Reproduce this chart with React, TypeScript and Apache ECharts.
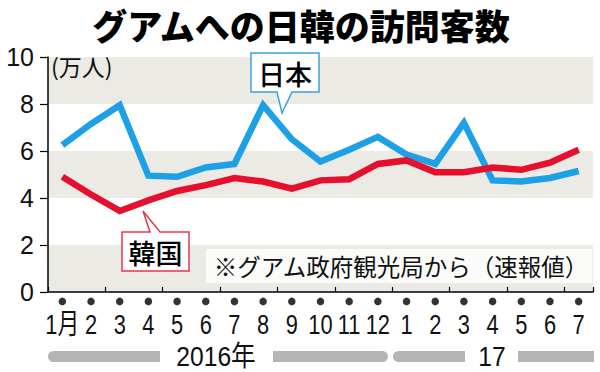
import React, { useEffect, useRef } from "react";
import * as echarts from "echarts";

const categories = [
  "2016-01", "2016-02", "2016-03", "2016-04", "2016-05", "2016-06", "2016-07",
  "2016-08", "2016-09", "2016-10", "2016-11", "2016-12",
  "2017-01", "2017-02", "2017-03", "2017-04", "2017-05", "2017-06", "2017-07",
];
const tickLabels = [
  "1月", "2", "3", "4", "5", "6", "7", "8", "9", "10", "11", "12",
  "1", "2", "3", "4", "5", "6", "7",
];
const japan = [6.25, 7.15, 7.95, 4.95, 4.9, 5.3, 5.45, 7.95, 6.5, 5.55, 6.05, 6.6, 5.85, 5.45, 7.2, 4.75, 4.7, 4.85, 5.15];
const korea = [4.9, 4.15, 3.45, 3.9, 4.3, 4.55, 4.85, 4.7, 4.4, 4.75, 4.8, 5.45, 5.6, 5.1, 5.1, 5.3, 5.2, 5.5, 6.05];
const yTicks = [0, 2, 4, 6, 8, 10];

const TITLE = "グアムへの日韓の訪問客数";
const UNIT = "(万人)";
const JAPAN_LABEL = "日本";
const KOREA_LABEL = "韓国";
const NOTE = "※グアム政府観光局から（速報値）";
const YEAR1 = "2016年";
const YEAR2 = "17";

const CJK = "'Noto Sans CJK JP', 'Noto Sans', sans-serif";
const SANS = "'Liberation Sans', Arial, 'Noto Sans CJK JP', sans-serif";

export default function App() {
  const ref = useRef<HTMLDivElement>(null);
  useEffect(() => {
    document.body.style.margin = "0";
    if (!ref.current) return;
    const chart = echarts.init(ref.current, null, { renderer: "svg" });
    const bar = "#b5b5b5";
    chart.setOption({
      animation: false,
      grid: { left: 48, right: 7, top: 57, bottom: 80, containLabel: false },
      xAxis: {
        type: "category",
        data: categories,
        boundaryGap: true,
        axisLine: { show: true, lineStyle: { color: "#000", width: 1.5 } },
        axisTick: { show: true, inside: true, length: 5, lineStyle: { color: "#000", width: 1.2 } },
        axisLabel: { show: false },
        splitLine: { show: false },
      },
      yAxis: {
        type: "value",
        min: 0,
        max: 10,
        interval: 2,
        axisLine: { show: true, lineStyle: { color: "#000", width: 1.5 } },
        axisTick: { show: true, length: 8, lineStyle: { color: "#000", width: 1.2 } },
        axisLabel: {
          margin: 14,
          fontFamily: SANS,
          fontSize: 25,
          color: "#111",
          formatter: (v: number) => (yTicks.includes(v) ? String(v) : ""),
        },
        splitLine: { show: false },
        splitArea: { show: true, areaStyle: { color: ["#ebeae5", "#ffffff"] } },
      },
      series: [
        {
          type: "line",
          data: japan,
          symbol: "none",
          lineStyle: { color: "#1ea0e6", width: 6.5, join: "miter" },
          z: 3,
        },
        {
          type: "line",
          data: korea,
          symbol: "none",
          lineStyle: { color: "#e5102d", width: 6.5, join: "miter" },
          z: 4,
        },
        {
          type: "scatter",
          data: categories.map((_c, i) => [i, -0.4]),
          symbol: "circle",
          symbolSize: 7.5,
          itemStyle: { color: "#000" },
          clip: false,
          silent: true,
          z: 5,
        },
      ],
    });

    // x-axis labels placed through the axis scale, drawn condensed
    const labelY = chart.convertToPixel({ yAxisIndex: 0 }, 0) as number;
    const xLabels = tickLabels.map((t, i) => {
      const px = chart.convertToPixel({ xAxisIndex: 0 }, i) as number;
      return {
        type: "text",
        x: px,
        y: labelY + 32,
        scaleX: 0.78,
        style: {
          text: t,
          fontFamily: SANS,
          fontSize: 28,
          fill: "#111",
          align: "center",
          verticalAlign: "middle",
        },
      };
    });

    chart.setOption({
      graphic: [
        {
          type: "text",
          x: 301,
          y: 24,
          style: {
            text: TITLE,
            fontFamily: CJK,
            fontWeight: 900,
            fontSize: 35,
            fill: "#000",
            align: "center",
            verticalAlign: "middle",
          },
        },
        {
          type: "text",
          x: 51,
          y: 66,
          style: {
            text: UNIT,
            fontFamily: CJK,
            fontSize: 23,
            fill: "#111",
            align: "left",
            verticalAlign: "middle",
          },
        },
        {
          type: "polygon",
          z: 10,
          shape: {
            points: [[251, 53], [319, 53], [319, 92], [292, 92], [282, 113], [277, 92], [251, 92]],
          },
          style: { fill: "#fff", stroke: "#3aa3dd", lineWidth: 1.5 },
        },
        {
          type: "text",
          z: 11,
          x: 285,
          y: 73,
          style: {
            text: JAPAN_LABEL,
            fontFamily: CJK,
            fontWeight: 500,
            fontSize: 27,
            fill: "#000",
            align: "center",
            verticalAlign: "middle",
          },
        },
        {
          type: "polygon",
          z: 10,
          shape: {
            points: [[122, 232], [150, 232], [143, 211], [160, 232], [189, 232], [189, 271], [122, 271]],
          },
          style: { fill: "#fff", stroke: "#e5384c", lineWidth: 1.5 },
        },
        {
          type: "text",
          z: 11,
          x: 155.5,
          y: 252,
          style: {
            text: KOREA_LABEL,
            fontFamily: CJK,
            fontWeight: 500,
            fontSize: 27,
            fill: "#000",
            align: "center",
            verticalAlign: "middle",
          },
        },
        {
          type: "rect",
          z: 8,
          shape: { x: 206, y: 249, width: 386, height: 34 },
          style: { fill: "#fbfbf9" },
        },
        {
          type: "text",
          z: 9,
          x: 401,
          y: 266,
          style: {
            text: NOTE,
            fontFamily: CJK,
            fontSize: 23.5,
            fill: "#111",
            align: "center",
            verticalAlign: "middle",
          },
        },
        {
          type: "rect",
          shape: { x: 48, y: 351, width: 112, height: 11, r: [5.5, 0, 0, 5.5] },
          style: { fill: bar },
        },
        {
          type: "rect",
          shape: { x: 273, y: 351, width: 115, height: 11, r: [0, 5.5, 5.5, 0] },
          style: { fill: bar },
        },
        {
          type: "rect",
          shape: { x: 393, y: 351, width: 72, height: 11, r: [5.5, 0, 0, 5.5] },
          style: { fill: bar },
        },
        {
          type: "rect",
          shape: { x: 518, y: 351, width: 76, height: 11, r: 0 },
          style: { fill: bar },
        },
        {
          type: "text",
          x: 216,
          y: 356,
          scaleX: 0.88,
          style: {
            text: YEAR1,
            fontFamily: SANS,
            fontSize: 28,
            lineHeight: 28,
            fill: "#111",
            align: "center",
            verticalAlign: "middle",
          },
        },
        {
          type: "text",
          x: 492,
          y: 356,
          scaleX: 0.88,
          style: {
            text: YEAR2,
            fontFamily: SANS,
            fontSize: 28,
            lineHeight: 28,
            fill: "#111",
            align: "center",
            verticalAlign: "middle",
          },
        },
        ...xLabels,
      ],
    });
    return () => chart.dispose();
  }, []);
  return <div ref={ref} style={{ width: 600, height: 372 }} />;
}
